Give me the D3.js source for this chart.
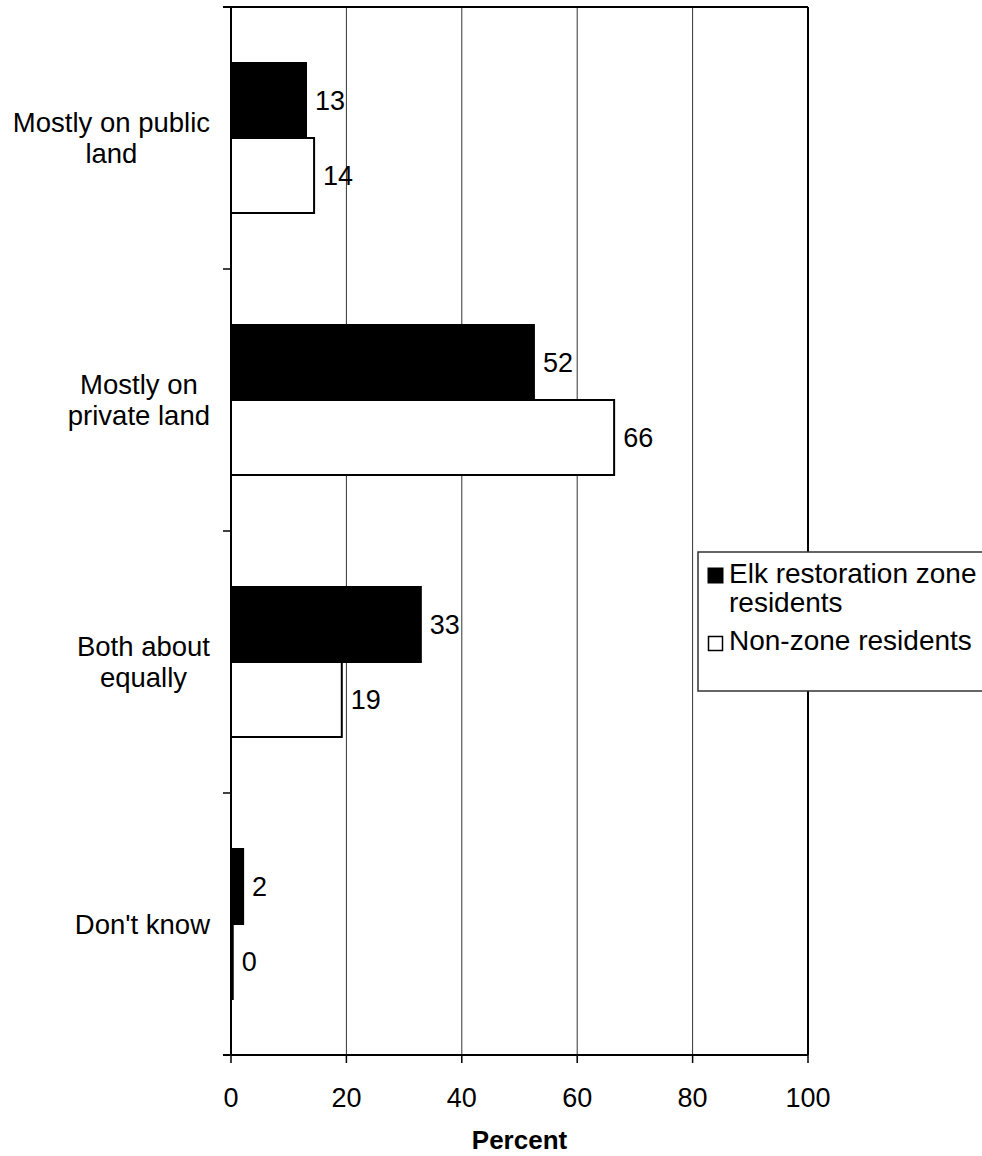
<!DOCTYPE html>
<html><head><meta charset="utf-8">
<script src="https://cdn.jsdelivr.net/npm/d3@7/dist/d3.min.js"></script>
<style>body{margin:0;background:#fff}svg{display:block;font-family:Arial,"Liberation Sans",sans-serif}</style>
</head><body>
<svg id="c" width="982" height="1156"></svg>
<script>
const categories = [["Mostly on public","land"],["Mostly on","private land"],["Both about","equally"],["Don't know"]];
const series = ["Elk restoration zone residents","Non-zone residents"];
const elkValues = [13.0, 52.5, 32.9, 2.1];
const nonZoneValues = [14.4, 66.4, 19.2, 0.3];
const elkLabels = ["13","52","33","2"];
const nonZoneLabels = ["14","66","19","0"];
const xTicks = [0,20,40,60,80,100];

const svg = d3.select("#c");
const L=231, R=808, T=7, B=1055;
const x = d3.scaleLinear().domain([0,100]).range([L,R]);
const y = d3.scaleBand().domain(d3.range(categories.length)).range([T,B]).paddingInner(0.4275).paddingOuter(0.21375);
const ys = d3.scaleBand().domain([0,1]).range([0,y.bandwidth()]);
const fs = 27;

// gridlines
svg.append("g").selectAll("line").data(xTicks.filter(d=>d>0&&d<100)).join("line")
  .attr("x1",d=>x(d)).attr("x2",d=>x(d)).attr("y1",T).attr("y2",B)
  .attr("stroke","#333").attr("stroke-width",1);

// frame top & right
svg.append("line").attr("x1",L-8).attr("x2",R).attr("y1",T).attr("y2",T).attr("stroke","#000").attr("stroke-width",2);
svg.append("line").attr("x1",R).attr("x2",R).attr("y1",T).attr("y2",B).attr("stroke","#000").attr("stroke-width",2);

// bars
const data = [];
categories.forEach((c,i)=>{
  data.push({i,s:0,v:elkValues[i],lab:elkLabels[i]});
  data.push({i,s:1,v:nonZoneValues[i],lab:nonZoneLabels[i]});
});
svg.append("g").selectAll("rect").data(data).join("rect")
  .attr("x",x(0)).attr("y",d=>y(d.i)+ys(d.s))
  .attr("width",d=>x(d.v)-x(0)).attr("height",ys.bandwidth())
  .attr("fill",d=>d.s===0?"#000":"#fff").attr("stroke","#000").attr("stroke-width",2);
svg.append("g").selectAll("text").data(data).join("text")
  .attr("x",d=>x(d.v)+9).attr("y",d=>y(d.i)+ys(d.s)+ys.bandwidth()/2)
  .attr("dy","0.35em").attr("font-size",fs).text(d=>d.lab);

// y axis
const yAxisG = svg.append("g");
yAxisG.append("line").attr("x1",L).attr("x2",L).attr("y1",T).attr("y2",B).attr("stroke","#000").attr("stroke-width",2);
const bounds = d3.range(categories.length+1).map(k=>T+k*y.step());
yAxisG.selectAll("line.t").data(bounds).join("line").attr("class","t")
  .attr("x1",L-8).attr("x2",L).attr("y1",d=>d).attr("y2",d=>d).attr("stroke","#000").attr("stroke-width",1.5);

// category labels
const lh = 31;
categories.forEach((lines,i)=>{
  const g = svg.append("g");
  const cy = y(i)+y.bandwidth()/2;
  const t = g.selectAll("text").data(lines).join("text")
    .attr("font-size",27.5).attr("text-anchor","middle")
    .attr("y",(d,k)=>cy+(k-(lines.length-1)/2)*lh).attr("dy","0.35em").text(d=>d);
  let maxW=0; t.each(function(){maxW=Math.max(maxW,this.getComputedTextLength());});
  t.attr("x",210-maxW/2);
});

// x axis
const xAxisG = svg.append("g");
xAxisG.append("line").attr("x1",L-8).attr("x2",R).attr("y1",B).attr("y2",B).attr("stroke","#000").attr("stroke-width",2);
xAxisG.selectAll("line.t").data(xTicks).join("line").attr("class","t")
  .attr("x1",d=>x(d)).attr("x2",d=>x(d)).attr("y1",B).attr("y2",B+8).attr("stroke","#000").attr("stroke-width",1.5);
xAxisG.selectAll("text").data(xTicks).join("text")
  .attr("x",d=>x(d)).attr("y",1107).attr("text-anchor","middle").attr("font-size",fs).text(d=>d);
svg.append("text").attr("x",x(50)).attr("y",1149).attr("text-anchor","middle")
  .attr("font-size",fs-1).attr("font-weight","bold").text("Percent");

// legend
const lg = svg.append("g");
lg.append("rect").attr("x",698).attr("y",552).attr("width",300).attr("height",139)
  .attr("fill","#fff").attr("stroke","#333").attr("stroke-width",1.5);
lg.append("rect").attr("x",707.5).attr("y",567.5).attr("width",16).attr("height",16).attr("fill","#000");
lg.append("text").attr("x",729).attr("y",583).attr("font-size",28).text("Elk restoration zone");
lg.append("text").attr("x",729).attr("y",612).attr("font-size",28).text("residents");
lg.append("rect").attr("x",708.5).attr("y",636.5).attr("width",14).attr("height",14).attr("fill","#fff").attr("stroke","#000").attr("stroke-width",1.5);
lg.append("text").attr("x",729).attr("y",650).attr("font-size",28).text("Non-zone residents");
</script>
</body></html>
